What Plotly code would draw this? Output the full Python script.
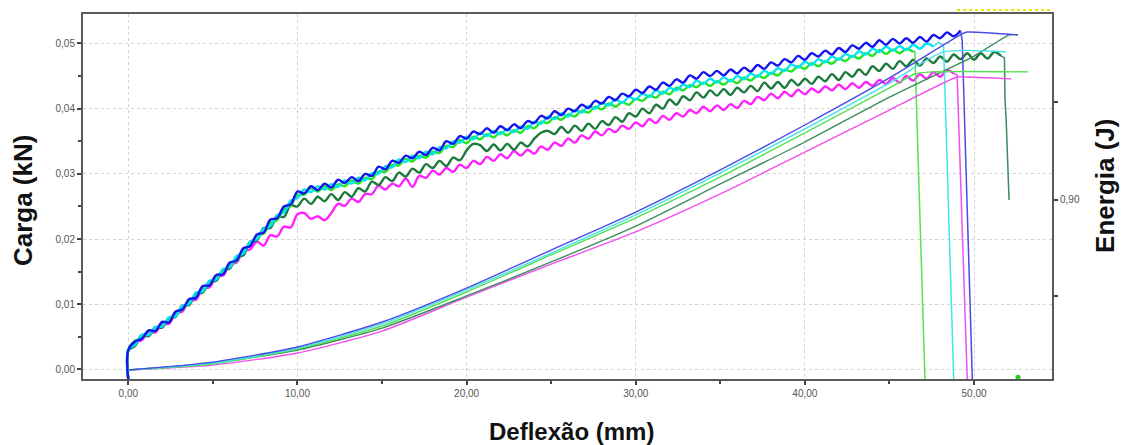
import plotly.graph_objects as go

# Deflection sampling grid (mm); the first point repeats 0.0 for the initial jump
DEFLEXAO = [0.0, 0.0, 0.4, 0.8, 1.2, 1.6, 2.0, 2.4, 2.8, 3.2, 3.6, 4.0, 4.4, 4.8, 5.2, 5.6,
            6.0, 6.4, 6.8, 7.2, 7.6, 8.0, 8.4, 8.8, 9.2, 9.6, 10.0, 10.4, 10.8, 11.2, 11.6,
            12.0, 12.4, 12.8, 13.2, 13.6, 14.0, 14.4, 14.8, 15.2, 15.6, 16.0, 16.4, 16.8,
            17.2, 17.6, 18.0, 18.4, 18.8, 19.2, 19.6, 20.0, 20.4, 20.8, 21.2, 21.6, 22.0,
            22.4, 22.8, 23.2, 23.6, 24.0, 24.4, 24.8, 25.2, 25.6, 26.0, 26.4, 26.8, 27.2,
            27.6, 28.0, 28.4, 28.8, 29.2, 29.6, 30.0, 30.4, 30.8, 31.2, 31.6, 32.0, 32.4,
            32.8, 33.2, 33.6, 34.0, 34.4, 34.8, 35.2, 35.6, 36.0, 36.4, 36.8, 37.2, 37.6,
            38.0, 38.4, 38.8, 39.2, 39.6, 40.0, 40.4, 40.8, 41.2, 41.6, 42.0, 42.4, 42.8,
            43.2, 43.6, 44.0, 44.4, 44.8, 45.2, 45.6, 46.0, 46.4, 46.8, 47.2, 47.6, 48.0,
            48.4, 48.8, 49.2, 49.6, 50.0, 50.4, 50.8, 51.2, 51.6]

# Load (kN) per specimen along DEFLEXAO
CARGA_AZUL = [
    -0.0016, 0.0030, 0.0043, 0.0047, 0.0060, 0.0059, 0.0073, 0.0072, 0.0089, 0.0092, 0.0108,
    0.0110, 0.0128, 0.0129, 0.0145, 0.0146, 0.0164, 0.0167, 0.0186, 0.0189, 0.0207,
    0.0210, 0.0230, 0.0232, 0.0250, 0.0253, 0.0273, 0.0270, 0.0281, 0.0275, 0.0285,
    0.0279, 0.0291, 0.0286, 0.0295, 0.0289, 0.0300, 0.0297, 0.0311, 0.0307, 0.0320,
    0.0317, 0.0328, 0.0324, 0.0334, 0.0329, 0.0340, 0.0336, 0.0350, 0.0346, 0.0358,
    0.0354, 0.0365, 0.0361, 0.0370, 0.0363, 0.0373, 0.0367, 0.0376, 0.0370, 0.0381,
    0.0378, 0.0389, 0.0385, 0.0396, 0.0390, 0.0400, 0.0396, 0.0406, 0.0401, 0.0412,
    0.0408, 0.0418, 0.0413, 0.0423, 0.0419, 0.0429, 0.0424, 0.0434, 0.0429, 0.0440,
    0.0435, 0.0445, 0.0440, 0.0451, 0.0446, 0.0456, 0.0450, 0.0458, 0.0451, 0.0460,
    0.0454, 0.0463, 0.0457, 0.0467, 0.0461, 0.0471, 0.0466, 0.0476, 0.0471, 0.0481,
    0.0475, 0.0485, 0.0480, 0.0489, 0.0483, 0.0493, 0.0487, 0.0497, 0.0492, 0.0501,
    0.0495, 0.0505, 0.0498, 0.0507, 0.0500, 0.0508, 0.0501, 0.0510, 0.0503, 0.0513,
    0.0508, 0.0517, 0.0511, 0.0520]
CARGA_CIANO = [
    -0.0016, 0.0030, 0.0038, 0.0053, 0.0053, 0.0065, 0.0066, 0.0080, 0.0082, 0.0098, 0.0101,
    0.0118, 0.0120, 0.0136, 0.0138, 0.0154, 0.0157, 0.0174, 0.0178, 0.0196, 0.0200,
    0.0216, 0.0220, 0.0237, 0.0241, 0.0259, 0.0263, 0.0276, 0.0272, 0.0281, 0.0276,
    0.0284, 0.0280, 0.0290, 0.0285, 0.0294, 0.0290, 0.0301, 0.0300, 0.0312, 0.0310,
    0.0322, 0.0318, 0.0328, 0.0324, 0.0334, 0.0330, 0.0341, 0.0339, 0.0350, 0.0348,
    0.0357, 0.0353, 0.0363, 0.0358, 0.0366, 0.0361, 0.0369, 0.0364, 0.0373, 0.0369,
    0.0380, 0.0377, 0.0388, 0.0384, 0.0393, 0.0388, 0.0398, 0.0394, 0.0404, 0.0400,
    0.0409, 0.0405, 0.0414, 0.0409, 0.0418, 0.0414, 0.0423, 0.0418, 0.0428, 0.0423,
    0.0432, 0.0428, 0.0437, 0.0433, 0.0443, 0.0438, 0.0446, 0.0440, 0.0448, 0.0442,
    0.0450, 0.0445, 0.0454, 0.0449, 0.0458, 0.0453, 0.0462, 0.0458, 0.0468, 0.0463,
    0.0472, 0.0467, 0.0476, 0.0471, 0.0480, 0.0475, 0.0484, 0.0479, 0.0488, 0.0483,
    0.0492, 0.0487, 0.0495, 0.0489, 0.0496, 0.0490, 0.0498, 0.0492, 0.0500, 0.0495]
CARGA_VERDE = [
    -0.0016, 0.0030, 0.0044, 0.0048, 0.0059, 0.0059, 0.0072, 0.0073, 0.0088, 0.0091, 0.0107,
    0.0111, 0.0126, 0.0129, 0.0144, 0.0147, 0.0163, 0.0166, 0.0184, 0.0190, 0.0206,
    0.0208, 0.0225, 0.0229, 0.0246, 0.0251, 0.0268, 0.0268, 0.0278, 0.0273, 0.0281,
    0.0275, 0.0284, 0.0281, 0.0290, 0.0285, 0.0294, 0.0292, 0.0304, 0.0303, 0.0314,
    0.0313, 0.0323, 0.0319, 0.0328, 0.0325, 0.0334, 0.0332, 0.0343, 0.0341, 0.0352,
    0.0347, 0.0357, 0.0353, 0.0361, 0.0356, 0.0364, 0.0359, 0.0367, 0.0363, 0.0373,
    0.0370, 0.0380, 0.0378, 0.0387, 0.0383, 0.0391, 0.0388, 0.0397, 0.0394, 0.0403,
    0.0399, 0.0408, 0.0403, 0.0410, 0.0406, 0.0415, 0.0412, 0.0420, 0.0417, 0.0426,
    0.0422, 0.0432, 0.0428, 0.0436, 0.0433, 0.0440, 0.0435, 0.0442, 0.0437, 0.0444,
    0.0439, 0.0448, 0.0443, 0.0451, 0.0447, 0.0455, 0.0451, 0.0460, 0.0457, 0.0465,
    0.0461, 0.0470, 0.0465, 0.0473, 0.0469, 0.0477, 0.0473, 0.0481, 0.0477, 0.0485,
    0.0481, 0.0490, 0.0484, 0.0491, 0.0485, 0.0492, 0.0487]
CARGA_VERDE_ESCURO = [
    -0.0016, 0.0029, 0.0036, 0.0053, 0.0051, 0.0065, 0.0064, 0.0079, 0.0081, 0.0098, 0.0099,
    0.0117, 0.0118, 0.0135, 0.0136, 0.0153, 0.0155, 0.0172, 0.0175, 0.0196, 0.0198,
    0.0217, 0.0217, 0.0235, 0.0234, 0.0252, 0.0250, 0.0262, 0.0254, 0.0265, 0.0258,
    0.0269, 0.0260, 0.0272, 0.0265, 0.0278, 0.0273, 0.0288, 0.0283, 0.0295, 0.0289,
    0.0302, 0.0296, 0.0308, 0.0302, 0.0315, 0.0309, 0.0320, 0.0312, 0.0325, 0.0321,
    0.0336, 0.0346, 0.0344, 0.0335, 0.0345, 0.0336, 0.0346, 0.0337, 0.0348, 0.0342,
    0.0354, 0.0363, 0.0366, 0.0361, 0.0372, 0.0363, 0.0374, 0.0366, 0.0377, 0.0369,
    0.0381, 0.0375, 0.0387, 0.0380, 0.0393, 0.0388, 0.0400, 0.0393, 0.0406, 0.0400,
    0.0414, 0.0406, 0.0419, 0.0413, 0.0425, 0.0417, 0.0428, 0.0420, 0.0430, 0.0421,
    0.0432, 0.0425, 0.0435, 0.0427, 0.0440, 0.0431, 0.0441, 0.0432, 0.0444, 0.0436,
    0.0446, 0.0438, 0.0449, 0.0442, 0.0453, 0.0444, 0.0456, 0.0449, 0.0460, 0.0452,
    0.0465, 0.0458, 0.0469, 0.0461, 0.0473, 0.0465, 0.0475, 0.0466, 0.0477, 0.0470,
    0.0480, 0.0472, 0.0483, 0.0476, 0.0485, 0.0475, 0.0485, 0.0477, 0.0487, 0.0481]
CARGA_MAGENTA = [
    -0.0016, 0.0029, 0.0042, 0.0045, 0.0058, 0.0057, 0.0070, 0.0070, 0.0086, 0.0089, 0.0106,
    0.0107, 0.0125, 0.0126, 0.0143, 0.0144, 0.0162, 0.0164, 0.0182, 0.0184, 0.0196,
    0.0190, 0.0206, 0.0204, 0.0219, 0.0218, 0.0238, 0.0240, 0.0231, 0.0235, 0.0229,
    0.0240, 0.0254, 0.0251, 0.0262, 0.0257, 0.0269, 0.0269, 0.0282, 0.0276, 0.0285,
    0.0281, 0.0293, 0.0280, 0.0297, 0.0294, 0.0305, 0.0299, 0.0309, 0.0303, 0.0314,
    0.0309, 0.0320, 0.0315, 0.0326, 0.0320, 0.0330, 0.0324, 0.0335, 0.0328, 0.0337,
    0.0331, 0.0342, 0.0337, 0.0348, 0.0343, 0.0354, 0.0348, 0.0359, 0.0354, 0.0365,
    0.0359, 0.0369, 0.0364, 0.0374, 0.0369, 0.0379, 0.0373, 0.0384, 0.0378, 0.0389,
    0.0383, 0.0393, 0.0388, 0.0398, 0.0393, 0.0403, 0.0396, 0.0405, 0.0398, 0.0407,
    0.0401, 0.0412, 0.0407, 0.0418, 0.0413, 0.0423, 0.0416, 0.0426, 0.0419, 0.0429,
    0.0422, 0.0431, 0.0425, 0.0434, 0.0428, 0.0437, 0.0430, 0.0439, 0.0432, 0.0441,
    0.0435, 0.0444, 0.0438, 0.0447, 0.0440, 0.0450, 0.0443, 0.0453, 0.0446, 0.0456,
    0.0449, 0.0459, 0.0454]

# Load drop at rupture (deflection mm, load kN), starting at the last sampled point
RUPTURA_AZUL_X = [49.2, 49.3, 49.9]
RUPTURA_AZUL_Y = [0.0520, 0.0505, -0.0016]
RUPTURA_CIANO_X = [47.6, 47.9, 48.2, 48.8]
RUPTURA_CIANO_Y = [0.0495, 0.0502, 0.0496, -0.0016]
RUPTURA_VERDE_X = [46.4, 46.5, 47.1]
RUPTURA_VERDE_Y = [0.0487, 0.0488, -0.0016]
RUPTURA_VERDE_ESCURO_X = [51.6, 51.8, 51.83, 51.9, 52.07]
RUPTURA_VERDE_ESCURO_Y = [0.0481, 0.0478, 0.0414, 0.0384, 0.0260]
RUPTURA_MAGENTA_X = [48.8, 49.0, 49.6]
RUPTURA_MAGENTA_Y = [0.0454, 0.0452, -0.0016]

# Absorbed energy (J) per specimen
ENERGIA_AZUL_X = [0, 5, 10, 15, 20, 25, 30, 35, 40, 45, 49.3, 49.6, 52.6]
ENERGIA_AZUL = [0.000, 0.042, 0.122, 0.254, 0.434, 0.635, 0.836, 1.059, 1.297, 1.546, 1.779, 1.789, 1.774]
ENERGIA_CIANO_X = [0, 5, 10, 15, 20, 25, 30, 35, 40, 45, 48.2, 51.9]
ENERGIA_CIANO = [0.000, 0.037, 0.116, 0.244, 0.424, 0.619, 0.821, 1.043, 1.276, 1.519, 1.684, 1.684]
ENERGIA_VERDE_X = [0, 5, 10, 15, 20, 25, 30, 35, 40, 45, 46.5, 47.5, 53.2]
ENERGIA_VERDE = [0.000, 0.032, 0.111, 0.233, 0.413, 0.609, 0.805, 1.022, 1.255, 1.493, 1.567, 1.578, 1.578]
ENERGIA_VERDE_ESCURO_X = [0, 5, 10, 15, 20, 25, 30, 35, 40, 45, 50, 52.1, 52.6]
ENERGIA_VERDE_ESCURO = [0.000, 0.037, 0.106, 0.222, 0.392, 0.572, 0.762, 0.985, 1.207, 1.445, 1.662, 1.774, 1.774]
ENERGIA_MAGENTA_X = [0, 5, 10, 15, 20, 25, 30, 35, 40, 45, 49.0, 49.5, 52.2]
ENERGIA_MAGENTA = [0.000, 0.026, 0.090, 0.206, 0.386, 0.561, 0.731, 0.932, 1.154, 1.376, 1.551, 1.551, 1.541]

X_TICKS = [0, 10, 20, 30, 40, 50]
Y_TICKS = [0.00, 0.01, 0.02, 0.03, 0.04, 0.05]
Y2_TICKS = [0.392, 0.90, 1.419]
Y2_TICK_TEXT = ["", "0,90", ""]

FONT = "Liberation Sans, Arial, sans-serif"

fig = go.Figure()

energias = [
    (ENERGIA_MAGENTA_X, ENERGIA_MAGENTA, "#f050f0"),
    (ENERGIA_VERDE_ESCURO_X, ENERGIA_VERDE_ESCURO, "#3c8c5c"),
    (ENERGIA_VERDE_X, ENERGIA_VERDE, "#55e055"),
    (ENERGIA_CIANO_X, ENERGIA_CIANO, "#40e4e8"),
    (ENERGIA_AZUL_X, ENERGIA_AZUL, "#4a4ae6"),
]
for ex, ey, cor in energias:
    fig.add_trace(go.Scatter(x=ex, y=ey, mode="lines", yaxis="y2",
                             line=dict(color=cor, width=1.4, shape="spline", smoothing=0.6),
                             showlegend=False, hoverinfo="skip"))

cargas = [
    (CARGA_MAGENTA, RUPTURA_MAGENTA_X, RUPTURA_MAGENTA_Y, "#ff22ff", "#f050f0"),
    (CARGA_VERDE_ESCURO, RUPTURA_VERDE_ESCURO_X, RUPTURA_VERDE_ESCURO_Y, "#1b7a3c", "#3c8c5c"),
    (CARGA_VERDE, RUPTURA_VERDE_X, RUPTURA_VERDE_Y, "#22e622", "#55e055"),
    (CARGA_CIANO, RUPTURA_CIANO_X, RUPTURA_CIANO_Y, "#00e6f0", "#40e4e8"),
    (CARGA_AZUL, RUPTURA_AZUL_X, RUPTURA_AZUL_Y, "#1414f0", "#4a4ae6"),
]
for cy, rx, ry, cor, cor_fina in cargas:
    fig.add_trace(go.Scatter(x=DEFLEXAO[:len(cy)], y=cy, mode="lines",
                             line=dict(color=cor, width=2.4, shape="spline", smoothing=1.0),
                             showlegend=False, hoverinfo="skip"))
    fig.add_trace(go.Scatter(x=rx, y=ry, mode="lines",
                             line=dict(color=cor_fina, width=1.5),
                             showlegend=False, hoverinfo="skip"))

# small marker sitting on the bottom axis
fig.add_trace(go.Scatter(x=[52.6], y=[-0.0012], mode="markers",
                         marker=dict(color="#22cc22", size=5),
                         showlegend=False, hoverinfo="skip"))

eixo = dict(showline=True, linecolor="#5a5a5a", linewidth=2, mirror=True,
            ticks="outside", ticklen=4, tickwidth=2, tickcolor="#444",
            showgrid=True, gridcolor="#d2d2d2", griddash="dot", gridwidth=1,
            zeroline=False, tickfont=dict(family=FONT, size=10, color="#555"))

fig.update_layout(
    width=1123, height=445,
    margin=dict(l=83, r=71, t=14, b=66),
    paper_bgcolor="white", plot_bgcolor="white",
    separators=",.",
    xaxis=dict(range=[-2.68, 54.61], tickvals=X_TICKS, tickformat=".2f",
               minor=dict(dtick=5, tick0=0, ticks="outside", ticklen=3, tickwidth=2,
                          tickcolor="#444", showgrid=False),
               **eixo),
    yaxis=dict(range=[-0.00146, 0.05452], tickvals=Y_TICKS, tickformat=".2f",
               minor=dict(dtick=0.005, tick0=0, ticks="outside", ticklen=3, tickwidth=2,
                          tickcolor="#444", showgrid=False),
               **eixo),
    yaxis2=dict(overlaying="y", side="right", range=[-0.0476, 1.8846],
                tickvals=Y2_TICKS, ticktext=Y2_TICK_TEXT, showgrid=False,
                showline=True, linecolor="#5a5a5a", linewidth=2,
                ticks="outside", ticklen=4, tickwidth=2, tickcolor="#444",
                zeroline=False, tickfont=dict(family=FONT, size=10, color="#555")),
    shapes=[dict(type="line", xref="x", yref="paper", x0=49.0, x1=54.6, y0=1.011, y1=1.011,
                 line=dict(color="#e6e600", width=2, dash="dot"))],
    annotations=[
        dict(text="<b>Carga (kN)</b>", xref="paper", yref="paper", x=-0.062, y=0.49,
             textangle=-90, showarrow=False, xanchor="center", yanchor="middle",
             font=dict(family=FONT, size=26, color="#111")),
        dict(text="<b>Energia (J)</b>", xref="paper", yref="paper", x=1.054, y=0.53,
             textangle=-90, showarrow=False, xanchor="center", yanchor="middle",
             font=dict(family=FONT, size=26, color="#111")),
        dict(text="<b>Deflexão (mm)</b>", xref="paper", yref="paper", x=0.5046, y=-0.145,
             showarrow=False, xanchor="center", yanchor="middle",
             font=dict(family=FONT, size=24, color="#111")),
    ],
)

fig.write_html("out.html")
